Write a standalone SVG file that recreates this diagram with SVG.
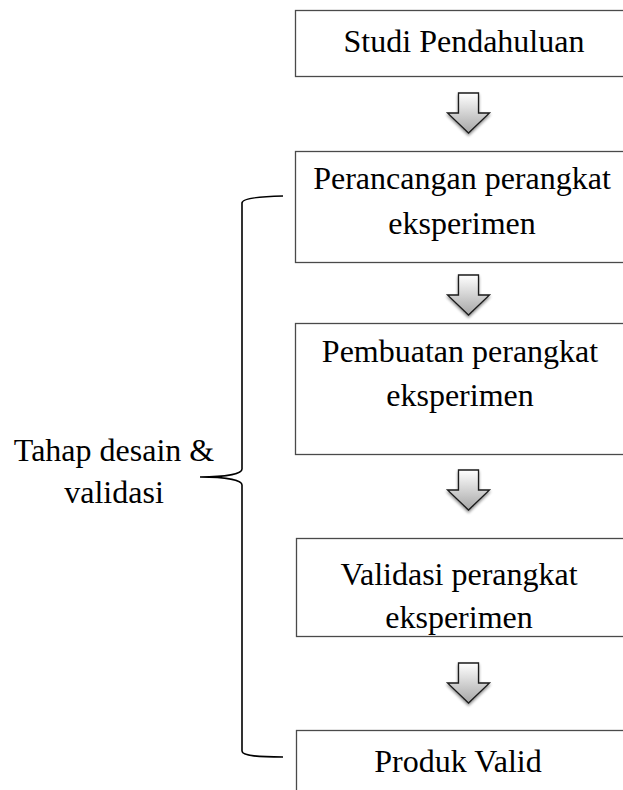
<svg xmlns="http://www.w3.org/2000/svg" width="623" height="790" viewBox="0 0 623 790">
<defs>
<linearGradient id="ag" x1="0" y1="0" x2="0" y2="1">
<stop offset="0" stop-color="#ffffff"/>
<stop offset="1" stop-color="#a6a6a6"/>
</linearGradient>
<filter id="sh" x="-30%" y="-30%" width="160%" height="160%">
<feGaussianBlur in="SourceAlpha" stdDeviation="1.5"/>
<feOffset dx="0" dy="2" result="b"/>
<feComponentTransfer><feFuncA type="linear" slope="0.45"/></feComponentTransfer>
<feMerge><feMergeNode/><feMergeNode in="SourceGraphic"/></feMerge>
</filter>
<path id="arr" d="M-10,0 H10 V20 H21 L0,40 L-21,20 H-10 Z"/>
</defs>
<style>
.box{fill:#ffffff;stroke:#4a4a4a;stroke-width:1.3}
.t{font-family:"Liberation Serif","Times New Roman",serif;font-size:32px;fill:#000;text-anchor:middle}
.arrow{fill:url(#ag);stroke:#1a1a1a;stroke-width:1.3;stroke-linejoin:miter}
.brace{fill:none;stroke:#000;stroke-width:1.6}
</style>
<g id="n1">
<rect class="box" x="295.5" y="10.5" width="330" height="66"/>
<text class="t" x="464" y="52">Studi Pendahuluan</text>
</g>
<g id="n2">
<rect class="box" x="295.5" y="151.5" width="330" height="111"/>
<text class="t" x="462" y="189">Perancangan perangkat</text>
<text class="t" x="462" y="234">eksperimen</text>
</g>
<g id="n3">
<rect class="box" x="295.5" y="323.5" width="330" height="131"/>
<text class="t" x="460" y="362">Pembuatan perangkat</text>
<text class="t" x="460" y="406">eksperimen</text>
</g>
<g id="n4">
<rect class="box" x="296.5" y="538.5" width="330" height="98"/>
<text class="t" x="459" y="585">Validasi perangkat</text>
<text class="t" x="459" y="628">eksperimen</text>
</g>
<g id="n5">
<rect class="box" x="296.5" y="730.5" width="330" height="70"/>
<text class="t" x="458" y="772">Produk Valid</text>
</g>
<g id="label">
<text class="t" x="114" y="461">Tahap desain &amp;</text>
<text class="t" x="114" y="503">validasi</text>
</g>
<g id="connectors">
<use href="#arr" class="arrow" filter="url(#sh)" transform="translate(468.5,93)"/>
<use href="#arr" class="arrow" filter="url(#sh)" transform="translate(468.5,275)"/>
<use href="#arr" class="arrow" filter="url(#sh)" transform="translate(468.5,470)"/>
<use href="#arr" class="arrow" filter="url(#sh)" transform="translate(468.5,663)"/>
<path class="brace" d="M283,196 C260,196.5 242,198 242,203 L242,469 C242,474 226,477 200,477 C226,477 242,480 242,485 L242,751 C242,756 260,757 283,757"/>
</g>
</svg>
